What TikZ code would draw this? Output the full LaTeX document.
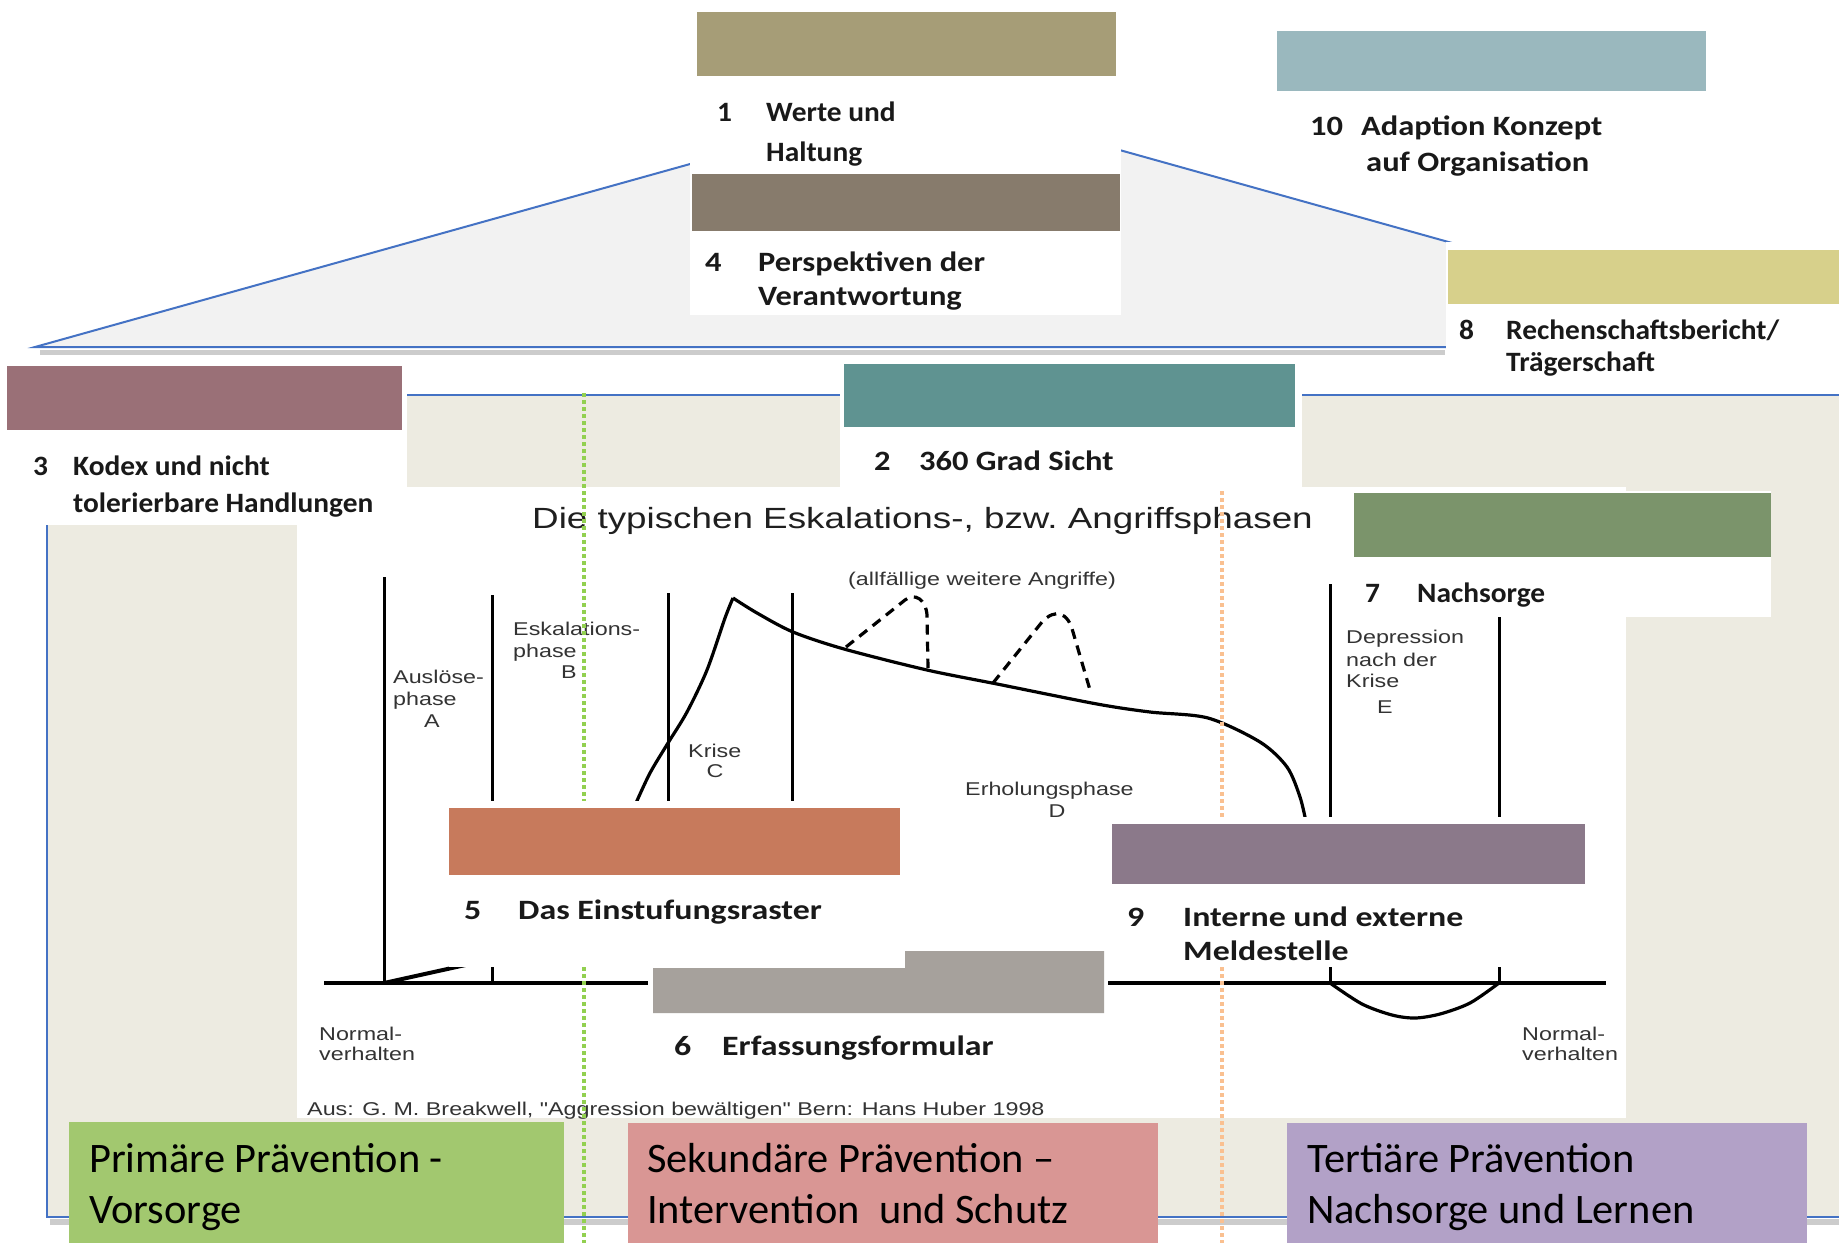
\documentclass[tikz,border=0pt]{standalone}
\usepackage{fontspec}
\setmainfont{Carlito}
\newfontfamily\fA[FakeStretch=1.05]{Carlito}
\newfontfamily\fB[FakeStretch=1.16]{Carlito}
\newfontfamily\fC[FakeStretch=1.21]{Carlito}
\newfontfamily\fD[FakeStretch=1.01]{Carlito}
\newfontfamily\fG[FakeStretch=1.26]{Liberation Sans}
\definecolor{cOne}{HTML}{A69D77}
\definecolor{cFour}{HTML}{877B6C}
\definecolor{cTen}{HTML}{9AB8BE}
\definecolor{cEight}{HTML}{D7D08B}
\definecolor{cThree}{HTML}{9A7077}
\definecolor{cTwo}{HTML}{5F9391}
\definecolor{cSeven}{HTML}{7B946B}
\definecolor{cFive}{HTML}{C77A5C}
\definecolor{cSix}{HTML}{A6A19C}
\definecolor{cNine}{HTML}{8B798A}
\definecolor{beige}{HTML}{EDEBE1}
\definecolor{roof}{HTML}{F2F2F2}
\definecolor{blueln}{HTML}{4472C4}
\definecolor{gPrim}{HTML}{A2C86F}
\definecolor{gSek}{HTML}{D99694}
\definecolor{gTer}{HTML}{B2A1C7}
\definecolor{dotG}{HTML}{92D050}
\definecolor{dotO}{HTML}{FAC090}
\begin{document}
\begin{tikzpicture}[x=1pt,y=-1pt,
  lblA/.style={anchor=base west, inner sep=0pt, text=black!90, font=\fA\fontsize{28}{34}\selectfont\bfseries},
  lblB/.style={anchor=base west, inner sep=0pt, text=black!90, font=\fB\fontsize{28}{34}\selectfont\bfseries},
  lblC/.style={anchor=base west, inner sep=0pt, text=black!90, font=\fC\fontsize{28}{34}\selectfont\bfseries},
  gtxt/.style={anchor=base west, inner sep=0pt, text=black!80, font=\fG\fontsize{18.5}{22}\selectfont},
  gctr/.style={gtxt, anchor=base},
  gtitle/.style={anchor=base west, inner sep=0pt, text=black!88, font=\fG\fontsize{29.2}{34}\selectfont},
  bottxt/.style={anchor=base west, inner sep=0pt, text=black, font=\fD\fontsize{42}{50}\selectfont},
  phaseln/.style={line width=3pt},
  curveln/.style={line width=3.2pt, line join=round},
  dashln/.style={line width=3.2pt, dash pattern=on 10pt off 7pt},
  dotln/.style={line width=4pt, dash pattern=on 4pt off 3pt}]
\useasboundingbox (0,0) rectangle (1839,1243);
\fill[white] (0,0) rectangle (1839,1243);
% roof
\draw[gray!40, line width=5pt] (40,352) -- (1445,352);
\filldraw[fill=roof, draw=blueln, line width=2pt] (35,347) -- (930,97) -- (1824,347) -- cycle;
% body
\draw[gray!40, line width=6pt] (50,1222) -- (1839,1222);
\filldraw[fill=beige, draw=blueln, line width=2.5pt] (47,395) rectangle (1870,1217);
% white label areas
\fill[white] (690,76) rectangle (1121,315);
\fill[white] (1446,242) rectangle (1839,390);
\fill[white] (0,356) rectangle (407,525);
\fill[white] (840,356) rectangle (1302,487);
\fill[white] (297,487) rectangle (1626,1118);
\fill[white] (1354,491) rectangle (1771,617);
% graph title
\node[gtitle] (title) at (532,528) {Die typischen Eskalations-, bzw.\ Angriffsphasen};
% phase lines
\draw[phaseln] (384,577) -- (384,983);
\draw[phaseln] (492,595) -- (492,983);
\draw[phaseln] (668,593) -- (668,983);
\draw[phaseln] (792,593) -- (792,983);
\draw[phaseln] (1330,584) -- (1330,983);
\draw[phaseln] (1499,617) -- (1499,983);
% baseline
\draw[line width=4pt] (324,983) -- (1606,983);
\draw[line width=4pt] (384,983) -- (470,964);
% main curve
\draw[curveln] plot[smooth, tension=0.5] coordinates {(636,803) (650,773) (668,743) (687,712) (707,670) (725,618) (733,598)};
\draw[curveln] plot[smooth, tension=0.5] coordinates {(733,598) (757,613) (793,632) (844,649) (927,670) (997,684) (1097,704) (1150,712) (1208,718) (1260,742) (1287,767) (1300,797) (1306,822)};
% further attacks
\draw[dashln] (846,647) -- (905,600) .. controls (915,592) and (926,600) .. (927,615) -- (928,668);
\draw[dashln] (993,683) -- (1042,622) .. controls (1055,608) and (1068,612) .. (1073,632) -- (1090,690);
% dip
\draw[curveln] plot[smooth, tension=0.5] coordinates {(1330,983) (1362,1004) (1392,1015) (1415,1018) (1440,1014) (1470,1003) (1499,983)};
% graph labels
\node[gtxt] (la1) at (393,683) {Auslöse-};
\node[gtxt] (la2) at (393,705) {phase};
\node[gctr] (la3) at (432,727) {A};
\node[gtxt] (lb1) at (513,635) {Eskalations-};
\node[gtxt] (lb2) at (513,657) {phase};
\node[gctr] (lb3) at (569,678) {B};
\node[gtxt] (lc1) at (688,757) {Krise};
\node[gctr] (lc2) at (715,777) {C};
\node[gtxt] (lw) at (848,585) {(allfällige weitere Angriffe)};
\node[gtxt] (ld1) at (965,795) {Erholungsphase};
\node[gctr] (ld2) at (1057,817) {D};
\node[gtxt] (le1) at (1346,643) {Depression};
\node[gtxt] (le2) at (1346,666) {nach der};
\node[gtxt] (le3) at (1346,687) {Krise};
\node[gctr] (le4) at (1385,713) {E};
\node[gtxt] (nl1) at (319,1040) {Normal-};
\node[gtxt] (nl2) at (319,1060) {verhalten};
\node[gtxt] (nr1) at (1522,1040) {Normal-};
\node[gtxt] (nr2) at (1522,1060) {verhalten};
\node[gtxt] (src) at (307,1115) {Aus: G.\ M.\ Breakwell, "Aggression bewältigen" Bern: Hans Huber 1998};
% dotted separators
\draw[dotln, dotG] (584,393) -- (584,1243);
\draw[dotln, dotO] (1222,491) -- (1222,1243);
% white areas over graph
\fill[white] (449,801) rectangle (905,967);
\fill[white] (648,951) rectangle (1108,1080);
\fill[white] (1108,817) rectangle (1585,967);
% coloured bars
\fill[cOne] (697,12) rectangle (1116,76);
\fill[cFour] (692,174) rectangle (1120,231);
\fill[cTen] (1277,31) rectangle (1706,91);
\fill[cEight] (1448,250) rectangle (1839,304);
\fill[cThree] (7,366) rectangle (402,430);
\fill[cTwo] (844,364) rectangle (1295,427);
\fill[cSeven] (1354,493) rectangle (1771,557);
\fill[cFive] (449,808) rectangle (900,875);
\fill[cSix] (653,968) -- (905,968) -- (905,951) -- (1104,951) -- (1104,1013) -- (653,1013) -- cycle;
\fill[cNine] (1112,824) rectangle (1585,884);
% labels
\node[lblA] (n1) at (717,121) {1};
\node[lblA] (t1a) at (766,121) {Werte und};
\node[lblA] (t1b) at (766,161) {Haltung};
\node[lblB] (n4) at (705,271) {4};
\node[lblB] (t4a) at (758,271) {Perspektiven der};
\node[lblB] (t4b) at (758,305) {Verantwortung};
\node[lblB] (n10) at (1310,135) {10};
\node[lblB] (t10a) at (1361,135) {Adaption Konzept};
\node[lblB] (t10b) at (1366,171) {auf Organisation};
\node[lblA] (n8) at (1459,339) {8};
\node[lblA] (t8a) at (1506,339) {Rechenschaftsbericht/};
\node[lblA] (t8b) at (1506,371) {Trägerschaft};
\node[lblA] (n3) at (33,475) {3};
\node[lblA] (t3a) at (73,475) {Kodex und nicht};
\node[lblA] (t3b) at (73,512) {tolerierbare Handlungen};
\node[lblB] (n2) at (874,470) {2};
\node[lblB] (t2) at (919,470) {360 Grad Sicht};
\node[lblA] (n7) at (1365,602) {7};
\node[lblA] (t7) at (1417,602) {Nachsorge};
\node[lblC] (n5) at (464,919) {5};
\node[lblC] (t5) at (518,919) {Das Einstufungsraster};
\node[lblC] (n6) at (674,1055) {6};
\node[lblC] (t6) at (722,1055) {Erfassungsformular};
\node[lblC] (n9) at (1127,926) {9};
\node[lblC] (t9a) at (1183,926) {Interne und externe};
\node[lblC] (t9b) at (1183,960) {Meldestelle};
% prevention boxes
\fill[gPrim] (69,1122) rectangle (564,1243);
\fill[gSek] (628,1123) rectangle (1158,1243);
\fill[gTer] (1287,1123) rectangle (1807,1243);
\node[bottxt] (p1a) at (89,1172) {Primäre Prävention -};
\node[bottxt] (p1b) at (89,1223) {Vorsorge};
\node[bottxt] (p2a) at (647,1172) {Sekundäre Prävention –};
\node[bottxt] (p2b) at (647,1223) {Intervention\ \ und Schutz};
\node[bottxt] (p3a) at (1307,1172) {Tertiäre Prävention};
\node[bottxt] (p3b) at (1307,1223) {Nachsorge und Lernen};
\end{tikzpicture}
\end{document}
